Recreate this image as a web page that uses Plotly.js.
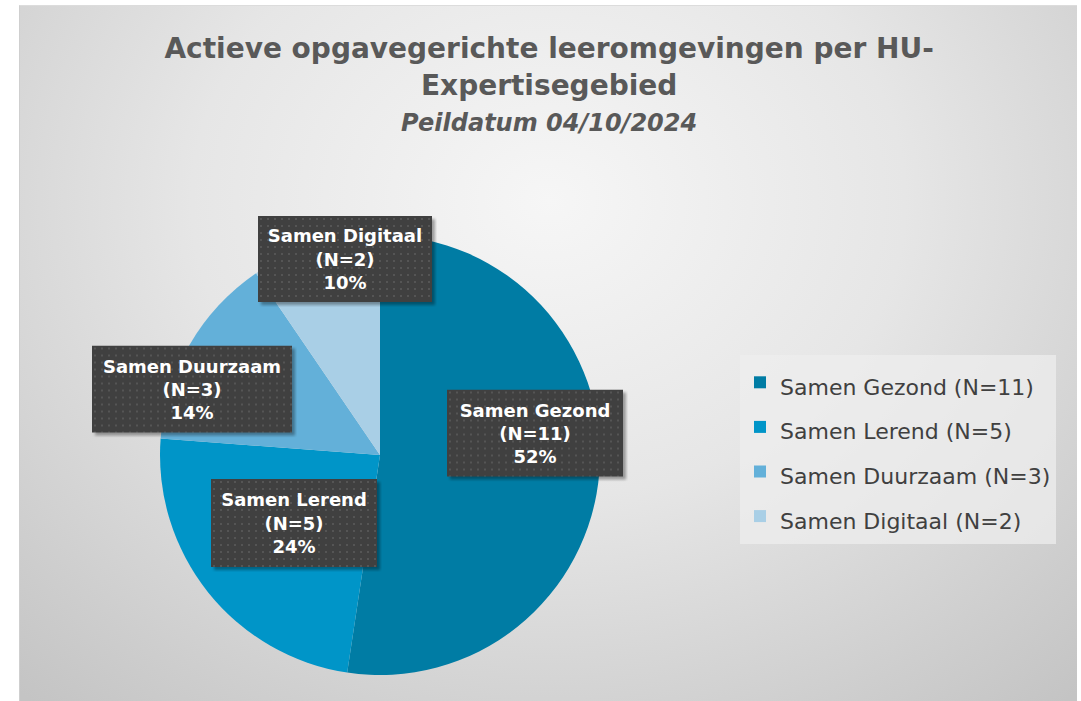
<!DOCTYPE html>
<html>
<head>
<meta charset="utf-8">
<script src="https://cdn.plot.ly/plotly-3.0.1.min.js"></script>
<style>
  html, body { margin: 0; padding: 0; background: #ffffff; width: 1081px; height: 701px; overflow: hidden; }
  #bg { position: absolute; left: 19px; top: 5px; width: 1058px; height: 696px;
        background: radial-gradient(ellipse 75% 95% at 50% 28%, #f6f6f6 0%, #e6e6e6 45%, #cdcdcd 85%, #c4c4c4 100%);
        border-left: 1px solid #cfcfcf; border-top: 1px solid #dcdcdc; box-sizing: border-box; }
  #chart { position: absolute; left: 0; top: 0; width: 1081px; height: 701px; }
</style>
</head>
<body>
<div id="bg"></div>
<div id="chart"></div>
<script>
// ---- data ----
const categories = ["Samen Gezond", "Samen Lerend", "Samen Duurzaam", "Samen Digitaal"];
const counts = [11, 5, 3, 2];
const colors = ["#007CA4", "#0095C8", "#63B0D9", "#A9CFE6"];

// ---- layout constants ----
const W = 1081, H = 701;
const pieCx = 380, pieCy = 455, pieR = 220;
// label box centres / sizes (px)
const boxes = [
  {cx: 535, cy: 433, w: 176, h: 87},
  {cx: 294, cy: 523, w: 166, h: 88},
  {cx: 192, cy: 389, w: 200, h: 87},
  {cx: 345, cy: 259, w: 174, h: 86}
];

const total = counts.reduce((a, b) => a + b, 0);
const legendNames = categories.map((c, i) => "<span style='font-size:22px'>" + c + " (N=" + counts[i] + ")</span>");

const trace = {
  type: "pie",
  labels: legendNames,
  values: counts,
  sort: false,
  direction: "clockwise",
  rotation: 0,
  marker: { colors: colors, line: { width: 0 } },
  textinfo: "none",
  hoverinfo: "none",
  domain: {
    x: [(pieCx - pieR) / W, (pieCx + pieR) / W],
    y: [(H - pieCy - pieR) / H, (H - pieCy + pieR) / H]
  }
};

function boxSvg(w, h) {
  const s = 5;
  const svg = "<svg xmlns='http://www.w3.org/2000/svg' width='" + (w + s) + "' height='" + (h + s) + "'>" +
    "<defs><pattern id='d' width='7' height='7' patternUnits='userSpaceOnUse'>" +
    "<rect x='2' y='2' width='2' height='2' fill='rgba(255,255,255,0.11)'/></pattern>" +
    "<filter id='f' x='-10%' y='-10%' width='130%' height='130%'><feGaussianBlur stdDeviation='1.5'/></filter></defs>" +
    "<rect x='3' y='3' width='" + (w) + "' height='" + (h) + "' fill='rgba(0,0,0,0.35)' filter='url(#f)'/>" +
    "<rect x='0' y='0' width='" + w + "' height='" + h + "' fill='#404040'/>" +
    "<rect x='0' y='0' width='" + w + "' height='" + h + "' fill='url(#d)'/>" +
    "</svg>";
  return "data:image/svg+xml;base64," + btoa(svg);
}

const images = boxes.map(b => ({
  source: boxSvg(b.w, b.h),
  xref: "paper", yref: "paper",
  x: (b.cx - b.w / 2) / W, y: 1 - (b.cy - b.h / 2) / H,
  sizex: (b.w + 5) / W, sizey: (b.h + 5) / H,
  xanchor: "left", yanchor: "top",
  sizing: "stretch", layer: "above"
}));

const annotations = categories.map((c, i) => {
  const b = boxes[i];
  const pct = Math.round(counts[i] / total * 100);
  return {
    xref: "paper", yref: "paper",
    x: b.cx / W, y: 1 - b.cy / H,
    xanchor: "center", yanchor: "middle",
    text: "<b>" + c + "<br>(N=" + counts[i] + ")<br>" + pct + "%</b>",
    showarrow: false,
    font: { family: "DejaVu Sans", size: 18, color: "#ffffff" },
    bgcolor: "rgba(0,0,0,0)",
    borderpad: 0, borderwidth: 0,
    width: b.w, height: b.h,
    align: "center", valign: "middle"
  };
});

const layout = {
  width: W, height: H,
  margin: { l: 0, r: 0, t: 0, b: 0 },
  paper_bgcolor: "rgba(0,0,0,0)",
  plot_bgcolor: "rgba(0,0,0,0)",
  title: {
    text: "<b>Actieve opgavegerichte leeromgevingen per HU-<br>Expertisegebied</b><br><span style='font-size:24px'><b><i>Peildatum 04/10/2024</i></b></span>",
    font: { family: "DejaVu Sans", size: 28, color: "#595959" },
    x: 0.508, xanchor: "center",
    y: 0.917, yanchor: "top"
  },
  showlegend: true,
  legend: {
    x: 740 / W, xanchor: "left",
    y: 1 - 355 / H, yanchor: "top",
    bgcolor: "rgba(238,238,238,0.75)",
    font: { family: "DejaVu Sans", size: 32, color: "#404040" },
    traceorder: "normal",
    entrywidth: 300, entrywidthmode: "pixels"
  },
  annotations: annotations,
  images: images
};

Plotly.newPlot("chart", [trace], layout, { displayModeBar: false, staticPlot: true });
</script>
</body>
</html>
